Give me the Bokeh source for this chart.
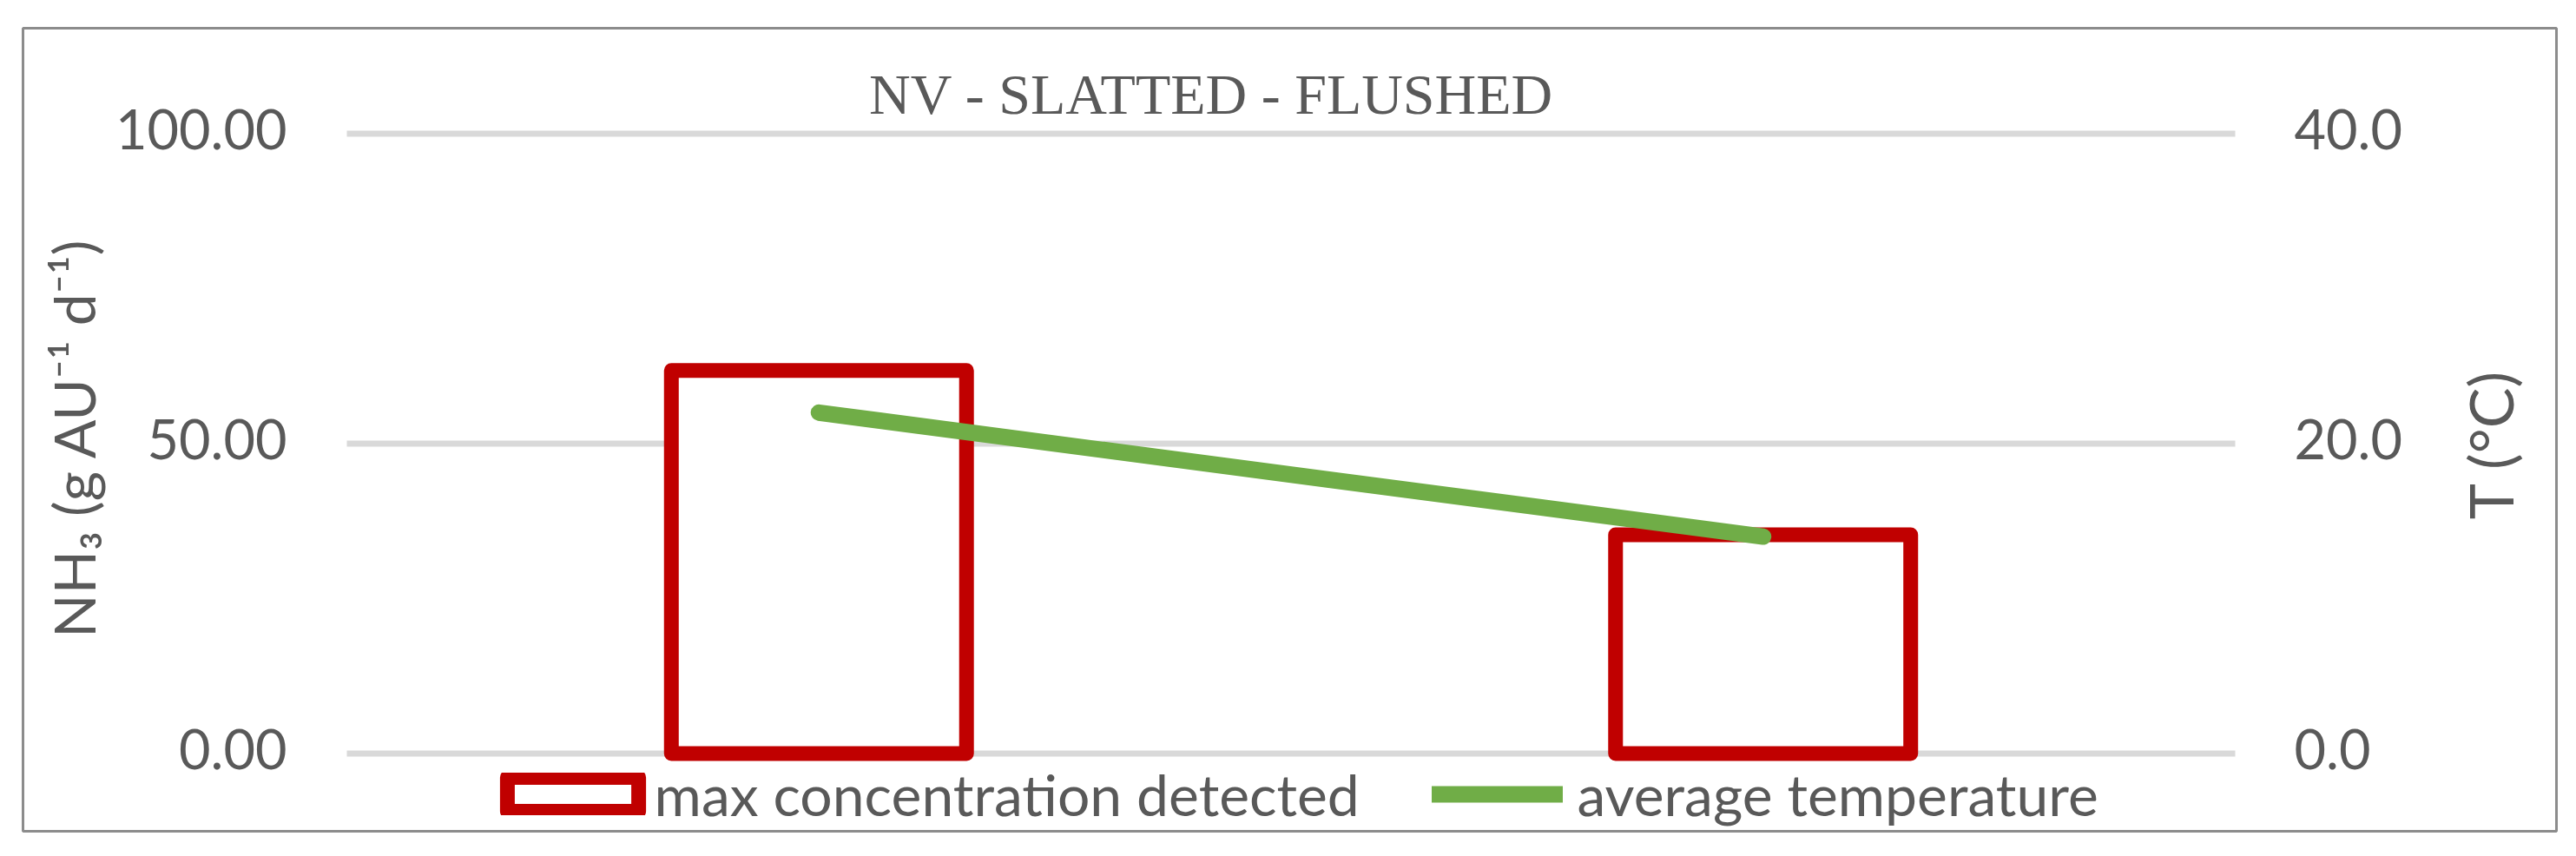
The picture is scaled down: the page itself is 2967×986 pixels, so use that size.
import math
from bokeh.plotting import figure
from bokeh.models import Range1d, Label, Legend, LegendItem, ColumnDataSource
from bokeh.embed import file_html
from bokeh.resources import INLINE
from bokeh.core.properties import value

# ---- data ----
categories = ["Period 1", "Period 2"]
max_concentration = [61.8, 35.3]
avg_temperature = [22.0, 14.0]
left_ticks = [0, 50, 100]
left_tick_labels = ["0.00", "50.00", "100.00"]
right_ticks = [0, 20, 40]
right_tick_labels = ["0.0", "20.0", "40.0"]
title_text = "NV -  SLATTED - FLUSHED"
left_title = "NH\u2083 (g AU\u207b\u00b9 d\u207b\u00b9)"
right_title = "T (\u00b0C)"
legend_labels = ["max concentration detected", "average temperature"]

# ---- layout (px) ----
W, H = 2960, 976
BL, BT, BR, BB = 26, 32, 16, 19             # frame = chart border box
frame_left, frame_right = BL, W - BR
frame_top, frame_bottom = BT, H - BB
plot_left, plot_right = 399.0, 2574.0       # x span of the two categories
y0_px, y100_px = 867.5, 153.5               # y of 0 and 100 on the left scale

n = len(categories)
cw = (plot_right - plot_left) / n
xstart = -(plot_left - frame_left) / cw
xend = n + (frame_right - plot_right) / cw
k = (y0_px - y100_px) / 100.0
ystart = -(frame_bottom - y0_px) / k
yend = (y0_px - frame_top) / k

TXT = "#595959"
SANS = "Lato"

p = figure(width=W, height=H, output_backend="svg", toolbar_location=None,
           x_range=Range1d(xstart, xend), y_range=Range1d(ystart, yend),
           x_axis_location=None, y_axis_location=None,
           min_border_left=BL, min_border_right=BR, min_border_top=BT, min_border_bottom=BB)
p.background_fill_color = "white"
p.border_fill_color = "white"
p.outline_line_color = "#8C8C8C"
p.outline_line_width = 3
p.grid.visible = False

p.extra_y_ranges = {"temp": Range1d(ystart * 0.4, yend * 0.4)}

# horizontal gridlines across the category span
p.segment(x0=0, x1=n, y0=left_ticks, y1=left_ticks, line_color="#D9D9D9",
          line_width=7, level="underlay")

# tick labels (left scale and right/temperature scale)
p.text(x=[0] * len(left_ticks), y=left_ticks, text=left_tick_labels,
       x_offset=-69, y_offset=-5, text_align="right", text_baseline="middle",
       text_font=value(SANS), text_font_size="63px", text_color=TXT)
p.text(x=[n] * len(right_ticks), y=right_ticks, text=right_tick_labels, y_range_name="temp",
       x_offset=68, y_offset=-5, text_align="left", text_baseline="middle",
       text_font=value(SANS), text_font_size="63px", text_color=TXT)

xs = [i + 0.5 for i in range(n)]
src = ColumnDataSource(dict(x=xs, cat=categories, conc=max_concentration, temp=avg_temperature))
bars = p.vbar(x="x", top="conc", bottom=0, width=0.3126, source=src,
              fill_color="white", line_color="#C00000", line_width=17, line_join="round")
line = p.line(x="x", y="temp", source=src, y_range_name="temp",
              line_color="#70AD47", line_width=19, line_cap="round")

def fx(px):
    return px - frame_left

def fy(py):
    return frame_bottom - py

# title
p.add_layout(Label(x=fx(1403), y=fy(107.5), x_units="screen", y_units="screen", text=title_text,
                   text_font="Liberation Serif", text_font_size="66px",
                   text_color=TXT, text_align="center", text_baseline="middle"))
# axis titles (rotated, reading bottom-to-top)
p.add_layout(Label(x=fx(84), y=fy(504), x_units="screen", y_units="screen", text=left_title,
                   angle=math.pi / 2, text_font=SANS, text_font_size="66px",
                   text_color=TXT, text_align="center", text_baseline="middle"))
p.add_layout(Label(x=fx(2867.5), y=fy(511.5), x_units="screen", y_units="screen", text=right_title,
                   angle=math.pi / 2, text_font=SANS, text_font_size="70px",
                   text_color=TXT, text_align="center", text_baseline="middle"))

def mk_legend(item, gx, gw, standoff):
    lg = Legend(items=[item], location=(fx(gx), fy(954)), orientation="horizontal",
                glyph_width=gw, glyph_height=49, label_standoff=standoff,
                padding=0, margin=0, spacing=0, border_line_alpha=0, background_fill_alpha=0,
                label_text_font=SANS, label_text_font_size="66px", label_text_color=TXT)
    p.add_layout(lg, "center")

mk_legend(LegendItem(label=legend_labels[0], renderers=[bars]), 564.6, 189, 0)
mk_legend(LegendItem(label=legend_labels[1], renderers=[line]), 1648.5, 151, 17)

open("out.html", "w").write(file_html(p, INLINE))
